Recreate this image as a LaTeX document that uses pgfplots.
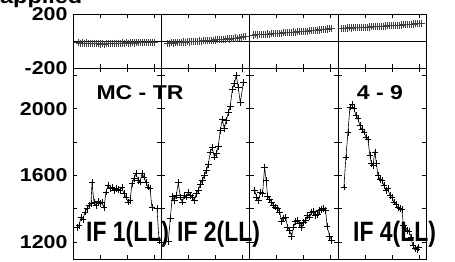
\documentclass[border=0pt]{standalone}
\usepackage{pgfplots}
\pgfplotsset{compat=1.18}
\usepackage{fontspec}
\setmainfont{Liberation Sans}[FakeStretch=1.15]
\newfontfamily\labfont{Liberation Sans}[FakeStretch=0.82]
\pgfplotsset{
 panel/.style={scale only axis, width=88.3bp, xmin=0, xmax=88.3,
   xtick={27,54,81}, xticklabels={}, tick align=inside,
   xtick pos=both, ytick pos=both, major tick length=4bp,
   axis line style={line width=0.8pt}, tick style={line width=0.7pt, black},
   yticklabel style={font=\fontsize{18.6bp}{20bp}\selectfont\bfseries, xshift=-2bp},
   anchor=south west},
 top/.style={panel, height=54bp, ymin=-200, ymax=200, ytick={-200,200}, yticklabels={}},
 bot/.style={panel, height=191bp, ymin=1098, ymax=2244, ytick={1200,1400,...,2200}, yticklabels={}},
 dat/.style={black, line width=0.6pt, mark=+, mark size=3.4pt, mark options={line width=0.75pt}},
 tdat/.style={black!75, line width=0.6pt, mark=+, mark size=3.6pt, mark options={line width=0.9pt}},
}
\begin{document}
\begin{tikzpicture}[x=1bp,y=1bp]
% ---------- top row (phase) ----------
\begin{axis}[top, at={(73bp,194bp)}, yticklabels={-200,200}]
\addplot[black, line width=0.6pt] coordinates {(0,0) (88.3,0)};
\addplot[tdat] coordinates {(5,-14)(7,-16)(9,-15)(11,-17)(13,-15)(15,-18)(17,-16)(19,-19)(21,-20)(23,-18)(25,-21)(27,-22)(29,-20)(31,-23)(33,-21)(35,-19)(37,-20)(39,-18)(41,-17)(43,-19)(45,-16)(47,-18)(49,-15)(51,-17)(53,-14)(55,-16)(57,-15)(59,-13)(61,-15)(63,-12)(65,-14)(67,-13)(69,-11)(71,-13)(73,-12)(75,-10)(77,-12)(79,-11)(81,-12)};
\end{axis}
\begin{axis}[top, at={(161.3bp,194bp)}]
\addplot[black, line width=0.6pt] coordinates {(0,0) (88.3,0)};
\addplot[tdat] coordinates {(6,-17)(8,-18)(10,-14)(12,-15)(14,-12)(16,-13)(18,-10)(20,-11)(22,-8)(24,-9)(26,-6)(28,-7)(30,-4)(32,-5)(34,-2)(36,-3)(38,0)(40,-1)(42,2)(44,1)(46,4)(48,3)(50,6)(52,5)(54,8)(56,9)(58,11)(60,10)(62,13)(64,14)(66,16)(68,15)(70,18)(72,20)(74,22)(76,21)(78,25)(80,28)(82,31)(84,34)};
\end{axis}
\begin{axis}[top, at={(249.6bp,194bp)}]
\addplot[black, line width=0.6pt] coordinates {(0,0) (88.3,0)};
\addplot[tdat] coordinates {(4,44)(6,46)(8,45)(10,48)(12,47)(14,50)(16,49)(18,52)(20,51)(22,54)(24,53)(26,56)(28,57)(30,58)(32,57)(34,60)(36,61)(38,62)(40,63)(42,64)(44,66)(46,65)(48,68)(50,69)(52,70)(54,71)(56,73)(58,72)(60,75)(62,76)(64,78)(66,77)(68,80)(70,82)(72,83)(74,85)(76,87)(78,89)(80,91)(82,94)};
\end{axis}
\begin{axis}[top, at={(337.9bp,194bp)}]
\addplot[black, line width=0.6pt] coordinates {(0,0) (88.3,0)};
\addplot[tdat] coordinates {(4,94)(6,95)(8,94)(10,96)(12,97)(14,96)(16,98)(18,99)(20,98)(22,100)(24,101)(26,102)(28,101)(30,103)(32,104)(34,105)(36,106)(38,105)(40,107)(42,108)(44,109)(46,110)(48,111)(50,112)(52,113)(54,112)(56,114)(58,115)(60,117)(62,116)(64,118)(66,120)(68,121)(70,122)(72,123)(74,124)(76,126)(78,127)(80,128)(82,130)(84,131)};
\end{axis}
% ---------- bottom row (amplitude) ----------
\begin{axis}[bot, at={(73bp,3bp)}, yticklabels={1200,,1600,,2000,}]
\addplot[dat] coordinates {(4,1285)(6,1300)(8,1345)(10,1335)(12,1380)(14,1400)(16,1420)(18,1430)(19,1555)(21,1440)(23,1420)(25,1445)(27,1430)(29,1440)(31,1405)(33,1500)(35,1540)(37,1520)(39,1525)(41,1510)(43,1520)(45,1515)(47,1510)(49,1525)(51,1490)(53,1470)(55,1440)(57,1450)(59,1550)(61,1580)(63,1610)(65,1570)(67,1560)(69,1610)(71,1590)(73,1555)(75,1530)(77,1520)(79,1405)(84,1400)(86,1210)};
\end{axis}
\begin{axis}[bot, at={(161.3bp,3bp)}]
\addplot[dat] coordinates {(7,1205)(9,1340)(11,1475)(13,1450)(15,1480)(17,1555)(19,1470)(21,1440)(23,1480)(25,1470)(27,1495)(29,1480)(31,1465)(33,1450)(35,1490)(37,1510)(39,1545)(41,1570)(43,1600)(45,1630)(47,1665)(49,1740)(51,1765)(53,1710)(55,1730)(57,1775)(59,1870)(61,1935)(63,1880)(65,1930)(67,1975)(69,2015)(71,2115)(73,2150)(75,2200)(77,2125)(79,2035)(82,2155)};
\end{axis}
\begin{axis}[bot, at={(249.6bp,3bp)}]
\addplot[dat] coordinates {(5,1510)(7,1470)(9,1450)(11,1500)(13,1490)(15,1650)(16.5,1570)(18,1475)(20,1455)(22,1440)(24,1420)(26,1410)(28,1400)(30,1380)(32,1325)(34,1340)(36,1345)(38,1290)(40,1270)(42,1235)(44,1290)(46,1325)(48,1330)(50,1310)(52,1285)(54,1315)(56,1330)(58,1360)(60,1350)(62,1380)(64,1385)(66,1360)(68,1365)(70,1390)(72,1395)(74,1400)(76,1390)(77.5,1295)(80,1235)(82,1210)};
\end{axis}
\begin{axis}[bot, at={(337.9bp,3bp)}]
\addplot[dat] coordinates {(6,1530)(8,1710)(10,1855)(12,2010)(14,2025)(16,2000)(18,1960)(20,1940)(22,1900)(24,1875)(26,1860)(28,1830)(30,1815)(32,1720)(33.5,1670)(35,1660)(37,1740)(38.5,1670)(40,1600)(42,1575)(44,1570)(46,1540)(48,1510)(50,1520)(52,1480)(54,1465)(56,1440)(58,1425)(60,1405)(62,1400)(64,1395)(65.5,1300)(67,1280)(69,1270)(71,1265)(73,1230)(75,1180)(77,1160)(79,1155)(80.5,1165)};
\end{axis}
% ---------- labels ----------
\node[anchor=base, inner sep=0, font=\fontsize{20bp}{22bp}\selectfont\bfseries] at (140bp,162bp) {MC - TR};
\node[anchor=base, inner sep=0, font=\fontsize{20bp}{22bp}\selectfont\bfseries] at (380bp,162bp) {4 - 9};
\node[anchor=base west, inner sep=0, font=\labfont\fontsize{28bp}{30bp}\selectfont\bfseries] at (86bp,21bp) {IF 1(LL)};
\node[anchor=base west, inner sep=0, font=\labfont\fontsize{28bp}{30bp}\selectfont\bfseries] at (177bp,21bp) {IF 2(LL)};
\node[anchor=base west, inner sep=0, font=\labfont\fontsize{28bp}{30bp}\selectfont\bfseries] at (353bp,21bp) {IF 4(LL)};
\node[anchor=base west, inner sep=0, font=\fontsize{20.4bp}{22bp}\selectfont\bfseries] at (0bp,258.5bp) {applied};
\pgfresetboundingbox
\useasboundingbox (0,0) rectangle (455bp,262bp);
\end{tikzpicture}
\end{document}
